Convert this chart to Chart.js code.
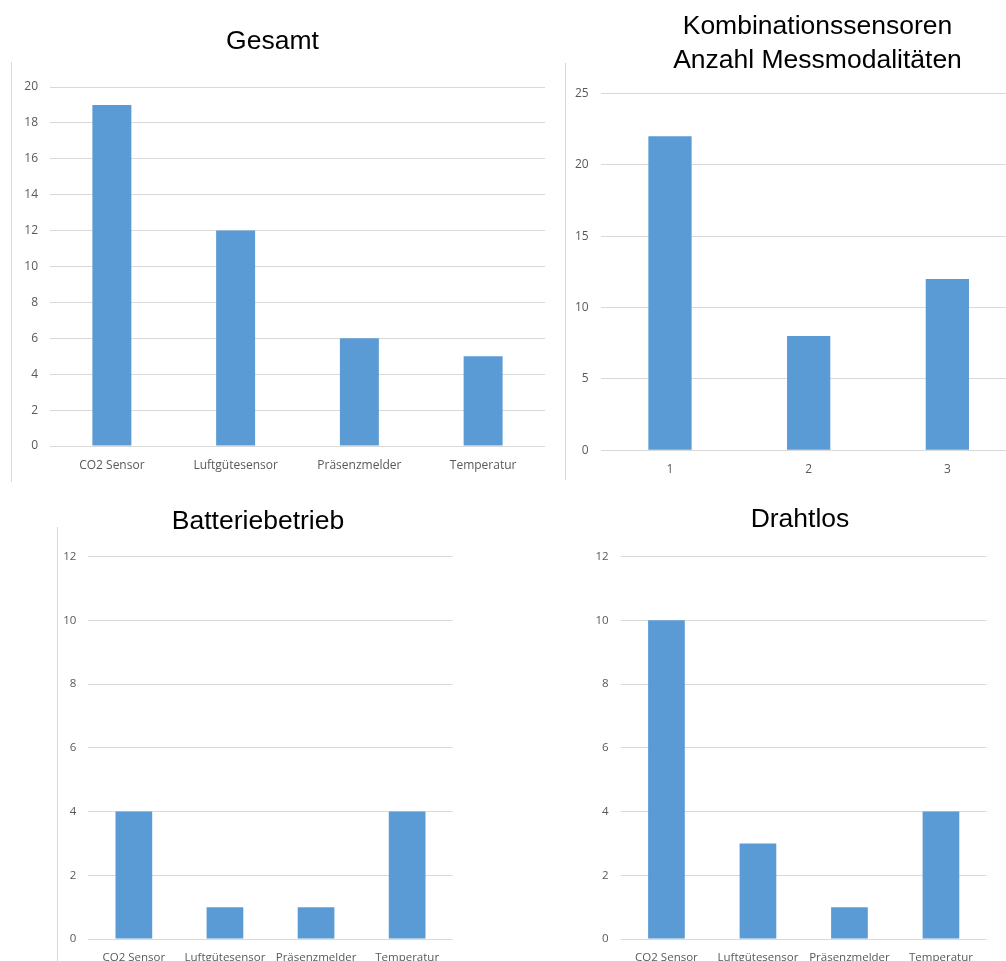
<!DOCTYPE html>
<html>
<head>
<meta charset="utf-8">
<title>Sensoren – Übersicht</title>
<script src="https://cdn.jsdelivr.net/npm/chart.js@4.4.1/dist/chart.umd.min.js"></script>
<style>
  html, body { margin: 0; padding: 0; background: #ffffff; }
  body { position: relative; width: 1006px; height: 961px; overflow: hidden; }
  canvas { position: absolute; }
  .frame { position: absolute; width: 1px; background: #d9d9d9; }
</style>
</head>
<body>
<div class="frame" style="left:11px; top:62px; height:420px"></div>
<div class="frame" style="left:565px; top:63px; height:417px"></div>
<div class="frame" style="left:57px; top:527px; height:434px"></div>

<canvas id="gesamt" width="545" height="490" style="left:0; top:0"></canvas>
<canvas id="kombi" width="515" height="490" style="left:560px; top:0"></canvas>
<canvas id="batterie" width="436" height="500" style="left:40px; top:490px"></canvas>
<canvas id="drahtlos" width="440" height="500" style="left:580px; top:490px"></canvas>

<script>
// Categories and counts
const sensorCategories = ['CO2 Sensor', 'Luftgütesensor', 'Präsenzmelder', 'Temperatur'];
const gesamtValues = [19, 12, 6, 5];

const modalityCategories = ['1', '2', '3'];
const modalityValues = [22, 8, 12];

const batteryValues = [4, 1, 1, 4];
const wirelessValues = [10, 3, 1, 4];

// Value-axis ranges: [max, step]
const gesamtAxis = [20, 2];
const modalityAxis = [25, 5];
const batteryAxis = [12, 2];
const wirelessAxis = [12, 2];

Chart.defaults.font.family = "'Open Sans', sans-serif";
Chart.defaults.color = '#595959';

const BAR_BLUE = '#5B9BD5';
const GRID_GREY = '#D9D9D9';

function barChart(id, cfg) {
  return new Chart(document.getElementById(id), {
    type: 'bar',
    data: {
      labels: cfg.labels,
      datasets: [{
        data: cfg.values,
        backgroundColor: BAR_BLUE,
        borderWidth: 0,
        barPercentage: cfg.barPct,
        categoryPercentage: 1
      }]
    },
    options: {
      responsive: false,
      animation: false,
      devicePixelRatio: 1,
      layout: { padding: 0 },
      plugins: {
        legend: { display: false },
        tooltip: { enabled: false },
        title: {
          display: true,
          text: cfg.title,
          color: '#000000',
          font: {
            family: "'Liberation Sans', Arial, sans-serif",
            size: 26.5,
            weight: 'normal',
            lineHeight: cfg.titleLineHeight
          },
          padding: cfg.titlePad
        }
      },
      scales: {
        x: {
          grid: { display: false, drawTicks: false },
          border: { display: false },
          ticks: { padding: 12, autoSkip: false, maxRotation: 0, font: { size: cfg.tickSize } },
          afterFit: s => { s.height = cfg.xAxisHeight; }
        },
        y: {
          min: 0,
          max: cfg.axis[0],
          ticks: { stepSize: cfg.axis[1], padding: 12, font: { size: cfg.tickSize } },
          grid: { color: GRID_GREY, lineWidth: 1, drawTicks: false },
          border: { display: false },
          afterFit: s => { s.width = cfg.yAxisWidth; }
        },
        // empty spacer on the right so the title stays centred over the whole panel
        spacer: {
          type: 'linear',
          position: 'right',
          grid: { display: false, drawTicks: false },
          border: { display: false },
          ticks: { display: false },
          afterFit: s => { s.width = cfg.rightWidth; }
        }
      }
    }
  });
}

barChart('gesamt', {
  labels: sensorCategories, values: gesamtValues, axis: gesamtAxis,
  title: 'Gesamt', titleLineHeight: '31px', titlePad: { top: 26.3, bottom: 29.7 },
  yAxisWidth: 50, rightWidth: 0, xAxisHeight: 44, barPct: 0.315, tickSize: 12
});

barChart('kombi', {
  labels: modalityCategories, values: modalityValues, axis: modalityAxis,
  title: ['Kombinationssensoren', 'Anzahl Messmodalitäten'], titleLineHeight: '34px',
  titlePad: { top: 9.3, bottom: 16 },
  yAxisWidth: 40.65, rightWidth: 58.3, xAxisHeight: 39.7, barPct: 0.312, tickSize: 12
});

barChart('batterie', {
  labels: sensorCategories, values: batteryValues, axis: batteryAxis,
  title: 'Batteriebetrieb', titleLineHeight: '31px', titlePad: { top: 15.8, bottom: 19.9 },
  yAxisWidth: 48.3, rightWidth: 23.3, xAxisHeight: 51, barPct: 0.403, tickSize: 11.5
});

barChart('drahtlos', {
  labels: sensorCategories, values: wirelessValues, axis: wirelessAxis,
  title: 'Drahtlos', titleLineHeight: '31px', titlePad: { top: 14.1, bottom: 21.4 },
  yAxisWidth: 40.7, rightWidth: 33.3, xAxisHeight: 51, barPct: 0.401, tickSize: 11.5
});
</script>
</body>
</html>
